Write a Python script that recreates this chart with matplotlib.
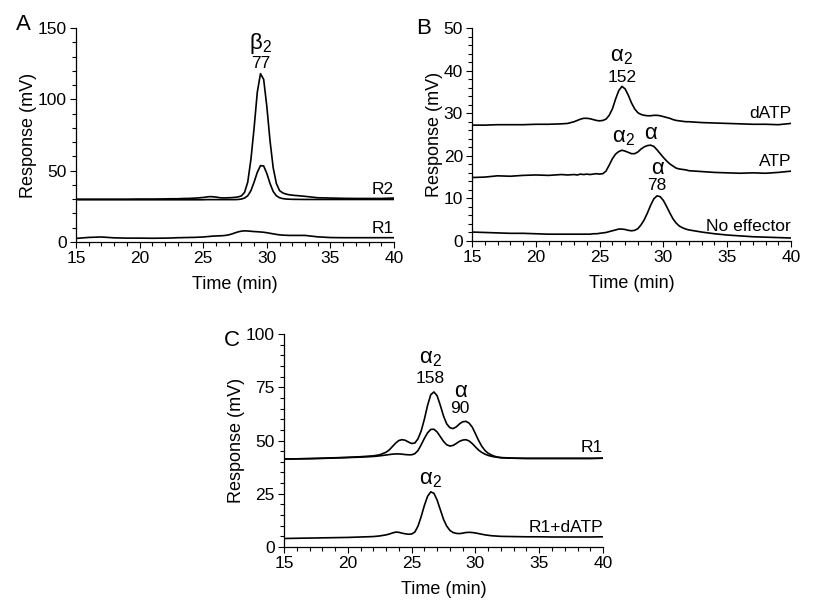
import matplotlib
matplotlib.use("Agg")
import matplotlib.pyplot as plt
from matplotlib.ticker import MultipleLocator

plt.rcParams['font.family'] = ['Liberation Sans', 'DejaVu Sans']
plt.rcParams['mathtext.fontset'] = 'custom'
plt.rcParams['mathtext.rm'] = 'Liberation Sans'

# shared time axis (min), finer around the peaks
time_min = [15, 16, 17, 18, 19, 20, 21, 22, 22.5,
            23, 23.25, 23.5, 23.75, 24, 24.25, 24.5, 24.75, 25, 25.25, 25.5, 25.75,
            26, 26.25, 26.5, 26.75, 27, 27.25, 27.5, 27.75, 28, 28.25, 28.5, 28.75,
            29, 29.25, 29.5, 29.75, 30, 30.25, 30.5, 30.75, 31, 31.25, 31.5, 31.75,
            32, 33, 34, 35, 36, 37, 38, 39, 40]

# panel A
a_r2_high = [30.0, 30.0, 30.0, 30.0, 30.0, 30.1, 30.1, 30.2, 30.3,
             30.3, 30.4, 30.5, 30.5, 30.6, 30.7, 30.8, 31.0, 31.2, 31.5, 31.8, 31.7,
             31.5, 31.1, 30.9, 30.9, 31.0, 31.1, 31.3, 31.6, 32.3, 34.8, 42.0, 58.0,
             80.0, 105.0, 118.0, 114.0, 95.0, 71.0, 52.0, 41.0, 36.0, 34.4, 33.6, 33.1,
             32.8, 32.0, 31.0, 30.8, 30.6, 30.5, 30.5, 30.5, 30.8]
a_r2_low = [29.6, 29.6, 29.6, 29.6, 29.6, 29.6, 29.6, 29.6, 29.6,
            29.6, 29.6, 29.6, 29.6, 29.6, 29.6, 29.6, 29.6, 29.6, 29.7, 29.7, 29.7,
            29.7, 29.7, 29.7, 29.7, 29.7, 29.7, 29.7, 29.8, 30.1, 30.8, 32.4, 36.0,
            42.0, 48.8, 53.5, 53.3, 48.0, 41.0, 35.4, 32.4, 31.0, 30.4, 30.1, 30.0,
            29.9, 29.8, 29.8, 29.8, 29.8, 29.8, 29.8, 29.8, 29.8]
a_r1 = [2.5, 3.2, 3.5, 2.9, 2.7, 2.7, 2.6, 2.7, 2.8,
        3.0, 3.0, 3.1, 3.1, 3.2, 3.2, 3.3, 3.4, 3.5, 3.7, 3.9, 4.1,
        4.2, 4.3, 4.4, 4.6, 5.0, 5.6, 6.4, 7.1, 7.6, 7.8, 7.7, 7.5,
        7.3, 7.2, 7.0, 6.8, 6.5, 6.1, 5.7, 5.3, 5.0, 4.8, 4.7, 4.6,
        4.6, 4.6, 3.6, 3.1, 3.0, 3.0, 3.0, 3.0, 3.0]

# panel B
b_datp = [27.2, 27.2, 27.3, 27.3, 27.3, 27.4, 27.4, 27.5, 27.6,
          28.0, 28.3, 28.6, 28.8, 28.8, 28.7, 28.5, 28.3, 28.2, 28.3, 28.6, 29.5,
          31.0, 33.3, 35.3, 36.3, 35.7, 34.2, 32.4, 31.0, 30.1, 29.7, 29.5, 29.4,
          29.4, 29.5, 29.5, 29.4, 29.2, 29.0, 28.8, 28.5, 28.3, 28.2, 28.1, 28.0,
          28.0, 27.8, 27.7, 27.6, 27.5, 27.4, 27.4, 27.3, 27.6]
b_atp = [14.9, 15.0, 15.3, 15.2, 15.4, 15.5, 15.4, 15.6, 15.5,
         15.6, 15.5, 15.7, 15.6, 15.7, 15.6, 15.7, 15.8, 15.7, 15.8, 16.4, 17.8,
         19.3, 20.4, 21.0, 21.3, 21.1, 20.8, 20.5, 20.5, 20.9, 21.6, 22.1, 22.4,
         22.5, 22.2, 21.4, 20.5, 19.6, 18.8, 18.1, 17.6, 17.1, 16.9, 16.8, 16.7,
         16.5, 16.3, 16.1, 16.0, 15.9, 16.0, 15.9, 16.1, 16.4]
b_none = [2.1, 2.0, 1.9, 1.8, 1.8, 1.7, 1.6, 1.6, 1.6,
          1.6, 1.6, 1.6, 1.6, 1.6, 1.6, 1.7, 1.7, 1.8, 1.9, 2.0, 2.2,
          2.4, 2.6, 2.8, 2.8, 2.7, 2.5, 2.4, 2.5, 2.9, 3.8, 5.0, 6.6,
          8.4, 9.9, 10.6, 10.4, 9.5, 8.1, 6.6, 5.2, 4.2, 3.5, 3.1, 2.8,
          2.6, 2.1, 1.7, 1.4, 1.2, 1.0, 0.9, 0.8, 0.7]

# panel C
c_r1_high = [41.3, 41.4, 41.5, 41.7, 41.9, 42.1, 42.4, 42.8, 43.3,
             44.5, 45.6, 47.2, 48.8, 50.0, 50.4, 50.1, 49.3, 48.6, 48.8, 50.8, 54.5,
             60.0, 66.5, 71.5, 72.8, 71.0, 66.5, 61.5, 57.8, 56.0, 55.6, 56.4, 57.8,
             58.8, 59.0, 58.2, 56.3, 53.2, 50.0, 47.3, 45.3, 44.0, 43.2, 42.6, 42.2,
             42.0, 41.7, 41.6, 41.6, 41.6, 41.6, 41.6, 41.6, 41.7]
c_r1_low = [41.3, 41.4, 41.5, 41.6, 41.8, 42.0, 42.2, 42.5, 42.8,
            43.2, 43.4, 43.6, 43.7, 43.7, 43.6, 43.4, 43.3, 43.3, 43.8, 45.3, 48.0,
            51.0, 53.6, 55.2, 55.3, 54.0, 51.8, 49.6, 48.0, 47.4, 47.7, 48.6, 49.6,
            50.2, 50.4, 49.8, 48.6, 47.0, 45.5, 44.4, 43.6, 43.0, 42.6, 42.3, 42.1,
            41.9, 41.7, 41.6, 41.6, 41.6, 41.6, 41.6, 41.6, 41.7]
c_r1_datp = [4.0, 4.1, 4.2, 4.3, 4.4, 4.5, 4.7, 4.9, 5.2,
             5.7, 6.1, 6.6, 7.0, 6.9, 6.5, 6.2, 6.0, 6.1, 7.0, 9.8, 14.3,
             19.5, 23.8, 25.9, 25.2, 22.0, 17.5, 13.0, 9.8, 7.8, 6.8, 6.4, 6.3,
             6.5, 6.8, 6.9, 6.8, 6.6, 6.3, 6.0, 5.7, 5.5, 5.3, 5.2, 5.1,
             5.0, 4.9, 4.8, 4.8, 4.7, 4.7, 4.7, 4.7, 4.8]

a2 = r'α$\mathregular{_2}$'
b2 = r'β$\mathregular{_2}$'
greek_fs = 16
num_fs = 12.5


def style_axis(ax, ymax, ymajor, yminor):
    ax.set_xlim(15, 40)
    ax.set_ylim(0, ymax)
    ax.xaxis.set_major_locator(MultipleLocator(5))
    ax.xaxis.set_minor_locator(MultipleLocator(1))
    ax.yaxis.set_major_locator(MultipleLocator(ymajor))
    ax.yaxis.set_minor_locator(MultipleLocator(yminor))
    for s in ['top', 'right']:
        ax.spines[s].set_visible(False)
    for s in ['left', 'bottom']:
        ax.spines[s].set_linewidth(0.9)
    ax.tick_params(which='major', length=4.5, width=0.8, labelsize=12.5, pad=2)
    ax.tick_params(which='minor', length=2.8, width=0.8)
    ax.set_xlabel('Time (min)', fontsize=13, labelpad=7)
    ax.set_ylabel('Response (mV)', fontsize=13, labelpad=0.5)


fig = plt.figure(figsize=(8.4, 6.14), dpi=100)
axA = fig.add_axes([0.0905, 0.6059, 0.3786, 0.3485])
axB = fig.add_axes([0.5619, 0.6075, 0.3798, 0.3469])
axC = fig.add_axes([0.3381, 0.1091, 0.3798, 0.3469])

lw = 1.2
# A
for y in [a_r2_high, a_r2_low, a_r1]:
    axA.plot(time_min, y, color='black', lw=lw)
style_axis(axA, 150, 50, 10)
axA.text(29.5, 139, b2, ha='center', va='center', fontsize=greek_fs)
axA.text(29.5, 125, '77', ha='center', va='center', fontsize=num_fs)
axA.text(40, 37, 'R2', ha='right', va='center', fontsize=num_fs)
axA.text(40, 9.6, 'R1', ha='right', va='center', fontsize=num_fs)

# B
for y in [b_datp, b_atp, b_none]:
    axB.plot(time_min, y, color='black', lw=lw)
style_axis(axB, 50, 10, 2)
axB.text(26.75, 43.4, a2, ha='center', va='center', fontsize=greek_fs)
axB.text(26.75, 38.4, '152', ha='center', va='center', fontsize=num_fs)
axB.text(40, 30.0, 'dATP', ha='right', va='center', fontsize=num_fs)
axB.text(26.85, 24.4, a2, ha='center', va='center', fontsize=greek_fs)
axB.text(29.0, 25.3, 'α', ha='center', va='center', fontsize=greek_fs)
axB.text(40, 18.6, 'ATP', ha='right', va='center', fontsize=num_fs)
axB.text(29.5, 17.1, 'α', ha='center', va='center', fontsize=greek_fs)
axB.text(29.5, 13.1, '78', ha='center', va='center', fontsize=num_fs)
axB.text(40, 3.5, 'No effector', ha='right', va='center', fontsize=num_fs)

# C
for y in [c_r1_high, c_r1_low, c_r1_datp]:
    axC.plot(time_min, y, color='black', lw=lw)
style_axis(axC, 100, 25, 5)
axC.text(26.45, 88.6, a2, ha='center', va='center', fontsize=greek_fs)
axC.text(26.45, 78.9, '158', ha='center', va='center', fontsize=num_fs)
axC.text(28.8, 72.9, 'α', ha='center', va='center', fontsize=greek_fs)
axC.text(28.8, 64.8, '90', ha='center', va='center', fontsize=num_fs)
axC.text(40, 46.6, 'R1', ha='right', va='center', fontsize=num_fs)
axC.text(26.45, 31.5, a2, ha='center', va='center', fontsize=greek_fs)
axC.text(40, 9.1, 'R1+dATP', ha='right', va='center', fontsize=num_fs)

fig.text(23 / 840, 1 - 25 / 614, 'A', ha='center', va='center', fontsize=16)
fig.text(424 / 840, 1 - 28 / 614, 'B', ha='center', va='center', fontsize=16)
fig.text(232 / 840, 1 - 340 / 614, 'C', ha='center', va='center', fontsize=16)

fig.savefig('out.png', dpi=100)
